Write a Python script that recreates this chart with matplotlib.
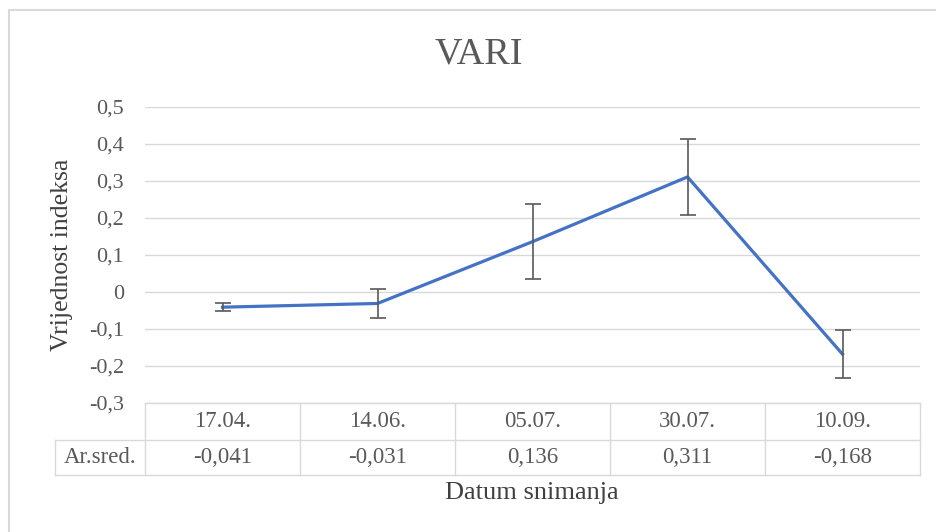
import numpy as np
import matplotlib.pyplot as plt
from matplotlib.patches import Rectangle

plt.rcParams['font.family'] = ['Liberation Serif', 'DejaVu Serif']

# data
dates = ['17.04.', '14.06.', '05.07.', '30.07.', '10.09.']
means = [-0.041, -0.031, 0.136, 0.311, -0.168]
errors = [0.011, 0.039, 0.101, 0.102, 0.065]
mean_labels = ['-0,041', '-0,031', '0,136', '0,311', '-0,168']
row_label = 'Ar.sred.'
yticks = [-0.3, -0.2, -0.1, 0, 0.1, 0.2, 0.3, 0.4, 0.5]

W, H = 936, 532
fig = plt.figure(figsize=(W / 100, H / 100), dpi=100)

# outer chart border (only top and left edges are visible in the crop)
fig.patches.append(Rectangle((9 / W, -0.1), 1.0, 1.1 - 10 / H, transform=fig.transFigure,
                             fill=False, edgecolor='#D9D9D9', linewidth=1.5))

left, right, top, bottom = 145, 920, 107, 403
ax = fig.add_axes([left / W, 1 - bottom / H, (right - left) / W, (bottom - top) / H])

x = np.arange(len(dates))
ax.plot(x, means, color='#4472C4', linewidth=2.3, zorder=3)
ax.errorbar(x, means, yerr=errors, fmt='none', ecolor='#595959', elinewidth=1.2,
            capsize=6, capthick=1.2, zorder=4)

ax.set_xlim(-0.5, len(dates) - 0.5)
ax.set_ylim(-0.3, 0.5)
ax.set_yticks(yticks)
ax.set_yticklabels([('%g' % v).replace('.', ',') for v in yticks])
ax.tick_params(axis='y', length=0, labelsize=16, colors='#595959', pad=15)
ax.tick_params(axis='x', length=0, labelbottom=False)
ax.yaxis.grid(True, color='#D9D9D9', linewidth=1)
ax.set_axisbelow(True)
for s in ax.spines.values():
    s.set_visible(False)

fig.text(479 / W, 1 - 54 / H, 'VARI', ha='center', va='center', fontsize=27.5, color='#595959')
fig.text(62 / W, 1 - 255 / H, 'Vrijednost indeksa', rotation=90, ha='center', va='center',
         fontsize=18.5, color='#404040')
fig.text(532 / W, 1 - 493 / H, 'Datum snimanja', ha='center', va='center',
         fontsize=19, color='#404040')

# data table below the plot
row1_top, row1_bot, row2_bot, lab_left = 403, 440, 475, 55
tc = '#D9D9D9'
def fy(py):
    return 1 - py / H
def fx(px):
    return px / W

lines = [
    ((left, right), (row1_top, row1_top)),
    ((lab_left, right), (row1_bot, row1_bot)),
    ((lab_left, right), (row2_bot, row2_bot)),
    ((lab_left, lab_left), (row1_bot, row2_bot)),
]
cw = (right - left) / len(dates)
for i in range(len(dates) + 1):
    xx = left + i * cw
    lines.append(((xx, xx), (row1_top, row2_bot)))
for (xs, ys) in lines:
    fig.add_artist(plt.Line2D([fx(xs[0]), fx(xs[1])], [fy(ys[0]), fy(ys[1])],
                              transform=fig.transFigure, color=tc, linewidth=1))

for i, (d, m) in enumerate(zip(dates, mean_labels)):
    cx = left + (i + 0.5) * cw
    fig.text(fx(cx), fy((row1_top + row1_bot) / 2), d, ha='center', va='center',
             fontsize=16.5, color='#595959')
    fig.text(fx(cx), fy((row1_bot + row2_bot) / 2), m, ha='center', va='center',
             fontsize=16.5, color='#595959')
fig.text(fx((lab_left + left) / 2), fy((row1_bot + row2_bot) / 2), row_label,
         ha='center', va='center', fontsize=16.5, color='#595959')

fig.savefig('out.png', dpi=100)
